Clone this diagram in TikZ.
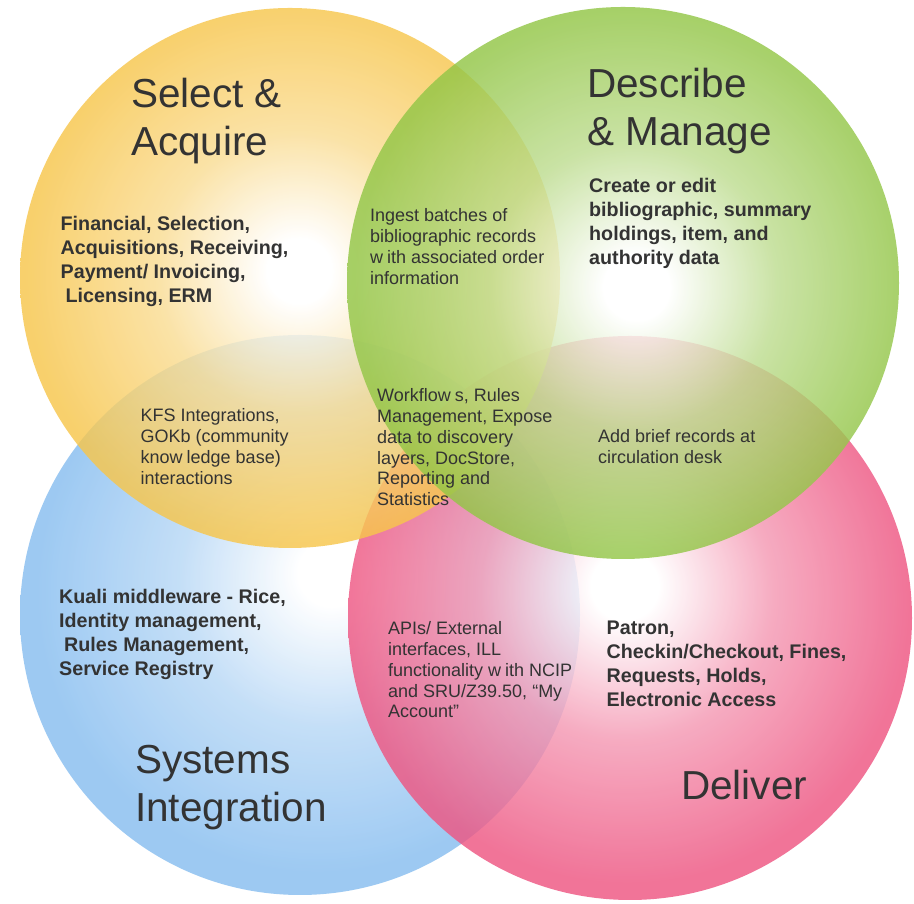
\documentclass[tikz,border=0pt]{standalone}
\usepackage{fontspec}
\setmainfont{Liberation Sans}
\definecolor{yedge}{HTML}{F7C64C}
\definecolor{gedge}{HTML}{93C647}
\definecolor{bedge}{HTML}{88BEF0}
\definecolor{pedge}{HTML}{EE5682}
\definecolor{txt}{HTML}{333333}
\pgfdeclareradialshading{yshade}{\pgfpoint{0.9bp}{0.7bp}}{color(0bp)=(white); color(3bp)=(white); color(13bp)=(yedge!60!white); color(25bp)=(yedge); color(50bp)=(yedge)}
\pgfdeclareradialshading{gshade}{\pgfpoint{1.3bp}{-0.4bp}}{color(0bp)=(white); color(3bp)=(white); color(13bp)=(gedge!60!white); color(25bp)=(gedge); color(50bp)=(gedge)}
\pgfdeclareradialshading{bshade}{\pgfpoint{3bp}{4bp}}{color(0bp)=(white); color(3bp)=(white); color(13bp)=(bedge!60!white); color(25bp)=(bedge); color(50bp)=(bedge)}
\pgfdeclareradialshading{pshade}{\pgfpoint{-0.5bp}{3bp}}{color(0bp)=(white); color(3bp)=(white); color(13bp)=(pedge!60!white); color(25bp)=(pedge); color(50bp)=(pedge)}
\newcommand\blk[1]{\begin{tabular}[t]{@{}l@{}}#1\end{tabular}}
\newcommand\gp{\kern4pt}
\tikzset{
  title/.style={anchor=base west, inner sep=0pt, text=txt, font=\fontsize{40.5pt}{47.5pt}\selectfont},
  bodyb/.style={anchor=base west, inner sep=0pt, text=txt, font=\fontsize{19.7pt}{24pt}\selectfont\bfseries},
  mid/.style={anchor=base west, inner sep=0pt, text=txt, font=\fontsize{18pt}{20.7pt}\selectfont},
  venn/.style={fill opacity=0.82}
}
\begin{document}
\begin{tikzpicture}[x=1pt,y=1pt]
\fill[white] (0,0) rectangle (914,904);
\useasboundingbox (0,0) rectangle (914,904);
% circles
\shade[shading=bshade, venn] (300,289) circle (280);
\shade[shading=pshade, venn] (630,286) circle (282);
\shade[shading=yshade, venn] (290,626) circle (270);
\shade[shading=gshade, venn] (623,621) circle (276);
% titles
\node[title] (sa) at (131,796) {\blk{Select \&\\Acquire}};
\node[title] (dm) at (587,806) {\blk{Describe\\\& Manage}};
\node[title] (si) at (135,130) {\blk{Systems\\Integration}};
\node[title] (de) at (681,104) {\blk{Deliver}};
% bold bodies
\node[bodyb] (fin) at (60.5,673) {\blk{Financial, Selection,\\Acquisitions, Receiving,\\Payment/ Invoicing,\\\hspace{5pt}Licensing, ERM}};
\node[bodyb] (cre) at (589,711) {\blk{Create or edit\\bibliographic, summary\\holdings, item, and\\authority data}};
\node[bodyb] (kua) at (59,300) {\blk{Kuali middleware - Rice,\\Identity management,\\\hspace{5pt}Rules Management,\\Service Registry}};
\node[bodyb] (pat) at (606.5,269) {\blk{Patron,\\Checkin/Checkout, Fines,\\Requests, Holds,\\Electronic Access}};
% overlaps
\node[mid] (ing) at (370,682) {\blk{Ingest batches of\\bibliographic records\\w\gp ith associated order\\information}};
\node[mid] (kfs) at (140.5,482) {\blk{KFS Integrations,\\GOKb (community\\know\gp ledge base)\\interactions}};
\node[mid] (wor) at (377,502) {\blk{Workflow\gp s, Rules\\Management, Expose\\data to discovery\\layers, DocStore,\\Reporting and\\Statistics}};
\node[mid] (add) at (598,461) {\blk{Add brief records at\\circulation desk}};
\node[mid] (api) at (388,269) {\blk{APIs/ External\\interfaces, ILL\\functionality w\gp ith NCIP\\and SRU/Z39.50, “My\\Account”}};
\end{tikzpicture}
\end{document}
